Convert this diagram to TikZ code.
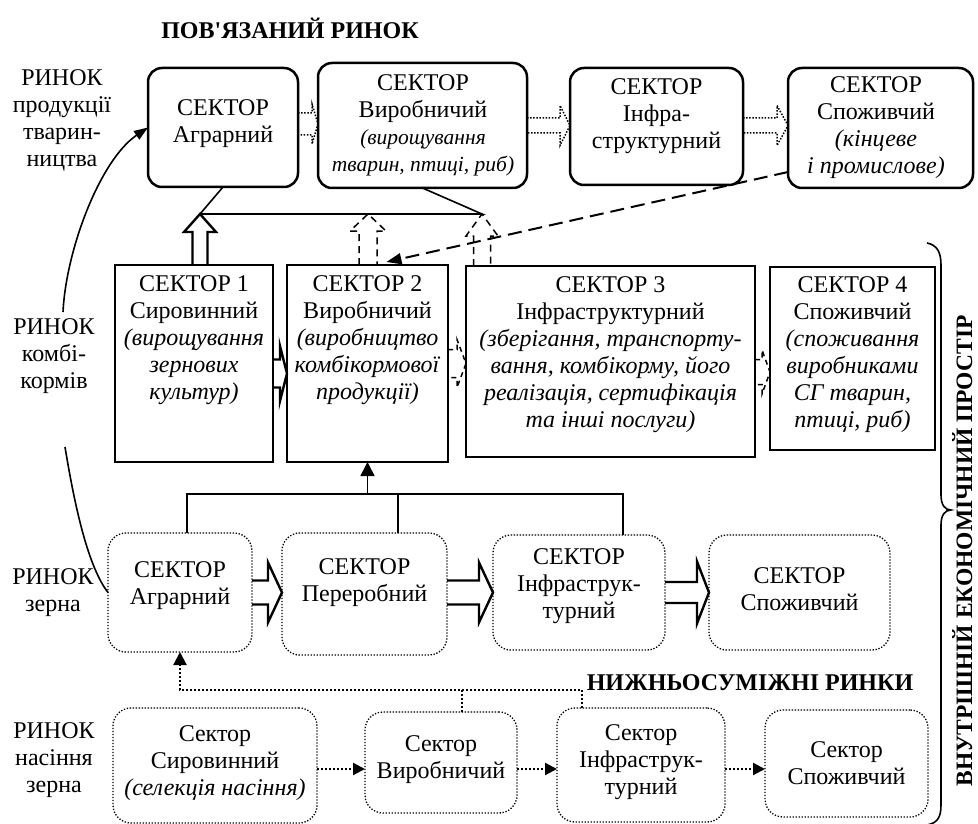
\documentclass[tikz,border=0pt]{standalone}
\usepackage{fontspec}
\setmainfont{Liberation Serif}[Ligatures=TeXOff]
\usetikzlibrary{arrows.meta,calc}
% horizontal hollow block arrow: style, start, tip, stem half, head half, head length
\newcommand\hollowH[6]{\draw[#1] let \p1=(#2), \p2=(#3) in
  (\x1,\y2+#4) -- (\x2-#6,\y2+#4) -- (\x2-#6,\y2+#5) -- (\x2,\y2) --
  (\x2-#6,\y2-#5) -- (\x2-#6,\y2-#4) -- (\x1,\y2-#4);}
% vertical (upward) hollow block arrow
\newcommand\hollowV[6]{\draw[#1] let \p1=(#2), \p2=(#3) in
  (\x2-#4,\y1) -- (\x2-#4,\y2-#6) -- (\x2-#5,\y2-#6) -- (\x2,\y2) --
  (\x2+#5,\y2-#6) -- (\x2+#4,\y2-#6) -- (\x2+#4,\y1);}
\newcommand\smallit[1]{{\fontsize{21.5}{27}\selectfont\itshape #1}}
\begin{document}
\begin{tikzpicture}[x=1pt,y=-1pt,
  every node/.style={inner sep=0pt, outer sep=0pt},
  txt/.style={align=center, font=\fontsize{24}{27}\selectfont},
  btxt/.style={align=center, font=\fontsize{24}{28}\selectfont\bfseries},
  rbox/.style={draw, line width=2.5pt, rounded corners=14pt},
  sbox/.style={draw, line width=2.7pt},
  dbox/.style={draw, line width=1.3pt, dash pattern=on 1.3pt off 1.7pt, rounded corners=18pt},
  conn/.style={line width=1.6pt},
  hol/.style={line width=2.4pt, line join=miter},
  holdot/.style={line width=1.5pt, dash pattern=on 1.5pt off 1.6pt},
  holdash/.style={line width=1.5pt, dash pattern=on 7pt off 5pt},
  holdash2/.style={line width=1.5pt, dash pattern=on 5pt off 4pt},
  ldash/.style={line width=2pt, dash pattern=on 14pt off 7pt},
  sdot/.style={line width=2.2pt, dash pattern=on 2pt off 2pt},
]
\useasboundingbox (0,0) rectangle (978,824);

% titles
\node[btxt] (t1) at (290,28) {ПОВ'ЯЗАНИЙ РИНОК};
\node[btxt] (t2) at (750,683) {НИЖНЬОСУМІЖНІ РИНКИ};
\node[btxt, font=\fontsize{23.5}{28}\selectfont\bfseries, rotate=90, anchor=base] (vt) at (972,551) {ВНУТРІШНІЙ ЕКОНОМІЧНИЙ ПРОСТІР};

% left labels
\node[txt] (l1) at (62,120) {РИНОК\\продукції\\тварин-\\ництва};
\node[txt] (l2) at (54,356) {РИНОК\\комбі-\\кормів};
\node[txt] (l3) at (53,593) {РИНОК\\зерна};
\node[txt] (l4) at (54,760) {РИНОК\\насіння\\зерна};

% top row
\node[rbox, minimum width=150, minimum height=119] (a1) at (223,127.5) {};
\node[rbox, minimum width=209, minimum height=125] (a2) at (422.5,125.5) {};
\node[rbox, minimum width=173, minimum height=117] (a3) at (656.5,126.5) {};
\node[rbox, minimum width=185, minimum height=120] (a4) at (880.5,128) {};
\node[txt] (a1t) at (223,124) {СЕКТОР\\Аграрний};
\node[txt] (a2t) at (423,125) {СЕКТОР\\Виробничий\\\smallit{(вирощування}\\\smallit{тварин, птиці, риб)}};
\node[txt] (a3t) at (656.5,116) {СЕКТОР\\Інфра-\\структурний};
\node[txt] (a4t) at (876,128) {СЕКТОР\\Споживчий\\\textit{(кінцеве}\\\textit{і промислове)}};

% middle row
\node[sbox, minimum width=158, minimum height=197] (b1) at (194,363.5) {};
\node[sbox, minimum width=161, minimum height=197] (b2) at (367.5,363.5) {};
\node[sbox, minimum width=289, minimum height=191] (b3) at (610.5,361.5) {};
\node[sbox, minimum width=165, minimum height=183] (b4) at (852.5,358.5) {};
\node[txt] (b1t) at (194,340.5) {СЕКТОР 1\\Сировинний\\\textit{(вирощування}\\\textit{зернових}\\\textit{культур)}};
\node[txt] (b2t) at (367.5,340.5) {СЕКТОР 2\\Виробничий\\\textit{(виробництво}\\\textit{комбікормової}\\\textit{продукції)}};
\node[txt] (b3t) at (610.5,355) {СЕКТОР 3\\Інфраструктурний\\\textit{(зберігання, транспорту-}\\\textit{вання, комбікорму, його}\\\textit{реалізація, сертифікація}\\\textit{та інші послуги)}};
\node[txt] (b4t) at (852.5,355) {СЕКТОР 4\\Споживчий\\\textit{(споживання}\\\textit{виробниками}\\\textit{СГ тварин,}\\\textit{птиці, риб)}};

% grain row
\node[dbox, minimum width=144, minimum height=119] (c1) at (180,592.5) {};
\node[dbox, minimum width=165, minimum height=122] (c2) at (364.5,594) {};
\node[dbox, minimum width=172, minimum height=115] (c3) at (579,592.5) {};
\node[dbox, minimum width=181, minimum height=115] (c4) at (799.5,592.5) {};
\node[txt] (c1t) at (180,586) {СЕКТОР\\Аграрний};
\node[txt] (c2t) at (364.5,582.5) {СЕКТОР\\Переробний};
\node[txt] (c3t) at (579,586) {СЕКТОР\\Інфраструк-\\турний};
\node[txt] (c4t) at (799.5,589) {СЕКТОР\\Споживчий};

% seed row
\node[dbox, minimum width=204, minimum height=115] (d1) at (215,765.5) {};
\node[dbox, minimum width=152, minimum height=101] (d2) at (441,762.5) {};
\node[dbox, minimum width=168, minimum height=114] (d3) at (641,765) {};
\node[dbox, minimum width=163, minimum height=107] (d4) at (846.5,763.5) {};
\node[txt] (d1t) at (215,763.5) {Сектор\\Сировинний\\\textit{(селекція насіння)}};
\node[txt] (d2t) at (441,760) {Сектор\\Виробничий};
\node[txt] (d3t) at (641,762.5) {Сектор\\Інфраструк-\\турний};
\node[txt] (d4t) at (846.5,763.5) {Сектор\\Споживчий};

% top row dotted hollow arrows
\hollowH{holdot}{a1.east}{$(a2.west)+(0,-1.5)$}{11pt}{20pt}{6pt}
\hollowH{holdot}{a2.east}{$(a3.west)+(0,-1)$}{7.5pt}{20pt}{10pt}
\hollowH{holdot}{a3.east}{$(a4.west)+(0,-2.5)$}{7.5pt}{20pt}{11pt}

% junction between top row and middle row
\coordinate (j1) at (200,214);
\coordinate (j2) at (368,214);
\coordinate (j3) at (482,214);
\draw[conn] (a1.south) -- (j1) -- (j3) -- (a2.south);
\hollowV{hol}{b1.north}{j1}{7.5pt}{16pt}{18pt}
\hollowV{holdash}{b2.north}{j2}{9pt}{18pt}{17pt}
\hollowV{holdash}{b3.north}{j3}{8.5pt}{16pt}{22pt}
\draw[ldash, -{Triangle[length=15pt,width=11pt]}] ($(a4.south west)+(0,-16)$) -- ($(b2.north)+(19,-3)$);

% middle row hollow arrows
\hollowH{hol}{b1.east}{$(b2.west)+(0,10)$}{14pt}{27.5pt}{7pt}
\hollowH{holdash2}{b2.east}{$(b3.west)+(0,2)$}{14pt}{24pt}{9pt}
\hollowH{holdash2}{b3.east}{$(b4.west)+(0,13.5)$}{12.5pt}{22pt}{8pt}

% grain row hollow arrows
\hollowH{hol}{c1.east}{$(c2.west)+(0,-1.5)$}{12pt}{30pt}{14pt}
\hollowH{hol}{c2.east}{c3.west}{12pt}{30pt}{14pt}
\hollowH{hol}{c3.east}{c4.west}{10.5pt}{31pt}{12pt}

% grain row to middle row
\draw[conn] ($(c1.north)+(7,0)$) -- ++(0,-39) -| ($(c3.north)+(44,0)$);
\draw[conn] ($(c2.north)+(33.5,0)$) -- ++(0,-39);
\draw[conn, -{Triangle[length=14pt,width=14pt]}] ($(b2.south)+(0,32)$) -- (b2.south);

% seed row
\coordinate (sy) at (0,769);
\draw[sdot, -{Triangle[length=12pt,width=12pt]}] (d1.east |- sy) -- (d2.west |- sy);
\draw[sdot, -{Triangle[length=12pt,width=12pt]}] (d2.east |- sy) -- (d3.west |- sy);
\draw[sdot, -{Triangle[length=12pt,width=12pt]}] (d3.east |- sy) -- (d4.west |- sy);
\draw[sdot, -{Triangle[length=13pt,width=13pt]}] ($(d3.north)+(-59,0)$) -- ++(0,-18) -| (c1.south);
\draw[sdot] ($(d2.north)+(21,0)$) -- ++(0,-22);

% left curve
\coordinate (cg1) at (65,447);
\coordinate (cg2) at (63,312);
\draw[conn] (c1.west) .. controls (86,564) and (73,495) .. (cg1);
\draw[conn, -{Triangle[length=14pt,width=10pt]}] (cg2) .. controls (66,250) and (100,160) .. (a1.west);

% brace
\draw[line width=1.6pt] (927,243) .. controls (937,245) and (941,252) .. (941,265) -- (941,495)
  .. controls (941,505) and (945,510) .. (951,510) .. controls (945,510) and (941,515) .. (941,525)
  -- (941,805) .. controls (941,818) and (937,823) .. (927,825);
\end{tikzpicture}
\end{document}
